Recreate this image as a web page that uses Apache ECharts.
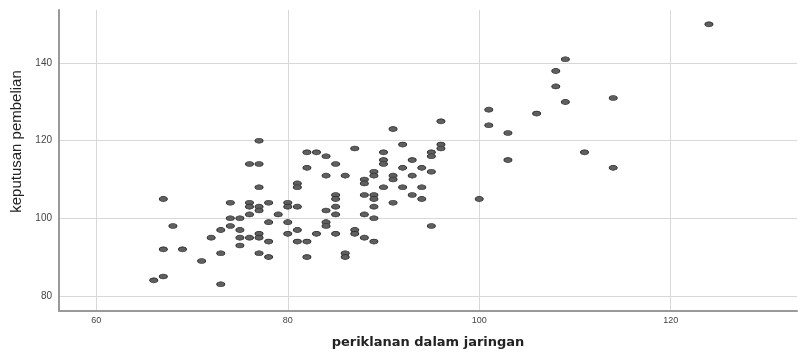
<!DOCTYPE html>
<html><head><meta charset="utf-8">
<script src="https://cdn.jsdelivr.net/npm/echarts@6/dist/echarts.min.js"></script>
<style>html,body{margin:0;padding:0;background:#fff}#c{width:798px;height:354px}</style>
</head><body><div id="c"></div>
<script>
const xName = 'periklanan dalam jaringan';
const yName = 'keputusan pembelian';
const xTicks = [60, 80, 100, 120];
const yTicks = [80, 100, 120, 140];
const periklanan = [66,67,67,67,68,69,71,72,73,73,73,74,74,74,75,75,75,75,
  76,76,76,76,76,77,77,77,77,77,77,77,77,78,78,78,78,79,80,80,80,80,
  81,81,81,81,81,82,82,82,82,83,83,84,84,84,84,84,85,85,85,85,85,85,
  86,86,86,87,87,87,88,88,88,88,88,89,89,89,89,89,89,89,90,90,90,90,
  91,91,91,91,92,92,92,93,93,93,94,94,94,95,95,95,95,96,96,96,
  100,101,101,103,103,106,108,108,109,109,111,114,114,124];
const keputusan = [84,105,92,85,98,92,89,95,97,91,83,104,100,98,100,97,95,93,
  114,104,103,101,95,120,114,108,103,102,96,95,91,104,99,94,90,101,104,103,99,96,
  109,108,103,97,94,117,113,94,90,117,96,116,111,102,99,98,114,106,105,103,101,96,
  111,91,90,118,97,96,110,109,106,101,95,112,111,106,105,103,100,94,117,115,114,108,
  123,111,110,104,119,113,108,115,111,106,113,108,105,117,116,112,98,125,119,118,
  105,128,124,122,115,127,138,134,141,130,117,131,113,150];
const pts = periklanan.map((x, i) => [x, keputusan[i]]);
const chart = echarts.init(document.getElementById('c'), null, {renderer: 'canvas'});
chart.setOption({
  animation: false,
  grid: {left: 59, right: 1, top: 10, bottom: 42},
  xAxis: {
    type: 'value', min: 56.1, max: 133.2,
    name: xName, nameLocation: 'middle', nameGap: 25,
    nameTextStyle: {fontFamily: 'DejaVu Sans', fontWeight: 'bold', fontSize: 13, color: '#222'},
    axisLine: {show: true, lineStyle: {color: '#999', width: 2}},
    axisTick: {show: false, customValues: xTicks},
    axisLabel: {customValues: xTicks, margin: 5, color: '#444', fontSize: 9, fontFamily: 'Liberation Sans'},
    splitLine: {show: true, lineStyle: {color: '#d8d8d8', width: 1}}
  },
  yAxis: {
    type: 'value', min: 76.1, max: 153.7,
    name: yName, nameLocation: 'middle', nameGap: 31, nameRotate: 90,
    nameTextStyle: {fontFamily: 'Liberation Sans', fontSize: 15, color: '#222', padding: [0, 0, 0, 38]},
    axisLine: {show: true, lineStyle: {color: '#999', width: 2}},
    axisTick: {show: false, customValues: yTicks},
    axisLabel: {customValues: yTicks, margin: 7, color: '#444', fontSize: 10, fontFamily: 'Liberation Sans'},
    splitLine: {show: true, lineStyle: {color: '#d8d8d8', width: 1}}
  },
  series: [{
    type: 'scatter', data: pts, symbol: 'circle', symbolSize: [8, 5],
    itemStyle: {color: '#5f5f5f', borderColor: '#2a2a2a', borderWidth: 0.8, opacity: 1}
  }]
});
</script></body></html>
